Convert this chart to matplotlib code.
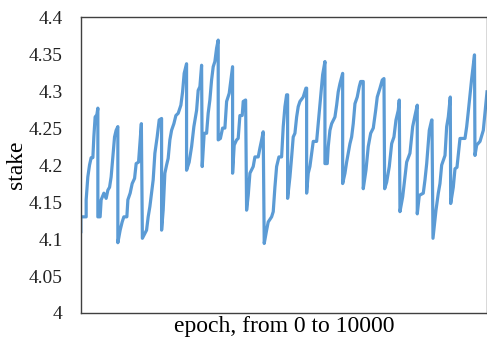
import matplotlib
matplotlib.use("Agg")
import matplotlib.pyplot as plt

plt.rcParams['font.family'] = ['Liberation Serif', 'DejaVu Serif']

# epochs (x axis runs 0..10000)
epoch = [0, 0, 131, 131, 172, 214, 254, 296, 320, 352, 394, 419,
         419, 475, 500, 567, 623, 665, 707, 746, 788, 830, 869, 911,
         911, 968, 1017, 1059, 1133, 1158, 1214, 1264, 1323, 1362, 1421, 1490,
         1515, 1618, 1658, 1700, 1741, 1781, 1823, 1879, 1929, 1988,
         1988, 2027, 2069, 2111, 2150, 2192, 2234, 2291, 2340, 2397, 2463, 2505, 2544, 2603,
         2603, 2667, 2727, 2783, 2850, 2889, 2931, 2973,
         2988, 3037, 3096, 3135, 3177, 3219, 3259, 3300, 3342, 3382,
         3382, 3436, 3490, 3547, 3589, 3653, 3695, 3736,
         3736, 3776, 3835, 3874, 3916, 3973, 3998, 4057,
         4081, 4121, 4163, 4244, 4286, 4367, 4409, 4451, 4490,
         4515, 4574, 4613, 4697, 4737, 4778, 4820, 4877, 4943, 4983, 5025, 5066, 5091,
         5091, 5148, 5190, 5229, 5271, 5313, 5352, 5394, 5475, 5542, 5559,
         5559, 5599, 5640, 5722, 5805, 5845, 5904, 5953, 6010,
         6010, 6067, 6091, 6133, 6175, 6256, 6298, 6337, 6379, 6446,
         6446, 6503, 6544, 6626, 6667, 6707, 6749, 6805, 6855, 6889, 6953,
         6953, 7020, 7076, 7136, 7200, 7259, 7298, 7365, 7421, 7463,
         7480, 7530, 7594, 7653, 7709, 7759, 7815, 7840,
         7857, 7924, 7980, 8022, 8103, 8170, 8227, 8283,
         8283, 8333, 8431, 8473, 8515, 8579, 8638, 8645,
         8670, 8744, 8801, 8842, 8884, 8966, 9007, 9047, 9096,
         9106, 9170, 9212, 9261, 9335, 9458, 9500, 9539, 9623, 9692,
         9704, 9746, 9828, 9909, 10000]

stake = [4.110, 4.130, 4.130, 4.153, 4.184, 4.200, 4.210, 4.210, 4.238, 4.265, 4.268, 4.277,
         4.130, 4.130, 4.153, 4.162, 4.155, 4.166, 4.170, 4.184, 4.211, 4.238, 4.247, 4.252,
         4.095, 4.112, 4.123, 4.130, 4.130, 4.153, 4.162, 4.175, 4.182, 4.202, 4.204, 4.256,
         4.101, 4.112, 4.130, 4.144, 4.162, 4.180, 4.216, 4.238, 4.261, 4.263,
         4.112, 4.139, 4.189, 4.200, 4.209, 4.234, 4.247, 4.256, 4.267, 4.270, 4.281, 4.299, 4.324, 4.337,
         4.193, 4.204, 4.225, 4.252, 4.274, 4.301, 4.306, 4.335,
         4.198, 4.243, 4.243, 4.270, 4.288, 4.315, 4.333, 4.340, 4.358, 4.369,
         4.234, 4.236, 4.250, 4.250, 4.286, 4.297, 4.315, 4.333,
         4.189, 4.227, 4.234, 4.236, 4.267, 4.267, 4.286, 4.288,
         4.139, 4.159, 4.189, 4.198, 4.211, 4.211, 4.223, 4.234, 4.245,
         4.094, 4.112, 4.123, 4.130, 4.137, 4.170, 4.198, 4.211, 4.211, 4.252, 4.279, 4.295, 4.295,
         4.155, 4.184, 4.211, 4.238, 4.243, 4.265, 4.279, 4.286, 4.292, 4.304, 4.304,
         4.162, 4.189, 4.198, 4.232, 4.232, 4.256, 4.290, 4.322, 4.340,
         4.202, 4.202, 4.225, 4.247, 4.256, 4.265, 4.281, 4.299, 4.310, 4.324,
         4.175, 4.189, 4.204, 4.229, 4.238, 4.256, 4.283, 4.292, 4.306, 4.313, 4.313,
         4.168, 4.193, 4.225, 4.243, 4.250, 4.274, 4.292, 4.304, 4.315, 4.317,
         4.168, 4.177, 4.198, 4.229, 4.238, 4.261, 4.274, 4.288,
         4.137, 4.157, 4.184, 4.204, 4.216, 4.252, 4.267, 4.281,
         4.134, 4.159, 4.162, 4.180, 4.202, 4.247, 4.261, 4.261,
         4.101, 4.139, 4.162, 4.175, 4.200, 4.213, 4.252, 4.265, 4.292,
         4.148, 4.170, 4.195, 4.197, 4.236, 4.236, 4.252, 4.272, 4.317, 4.349,
         4.213, 4.227, 4.232, 4.247, 4.299]

y_ticks = [4, 4.05, 4.1, 4.15, 4.2, 4.25, 4.3, 4.35, 4.4]
y_labels = ["4", "4.05", "4.1", "4.15", "4.2", "4.25", "4.3", "4.35", "4.4"]

fig = plt.figure(figsize=(4.87, 3.43), dpi=100)
ax = fig.add_axes([0.166, 0.0875, 0.834, 0.8625])

ax.plot(epoch, stake, color="#5b9bd5", linewidth=2.3, solid_joinstyle="round")

ax.set_xlim(0, 10000)
ax.set_ylim(4, 4.4)
ax.set_yticks(y_ticks)
ax.set_yticklabels(y_labels)
ax.set_xticks([])
ax.tick_params(axis="y", length=0, pad=13, labelsize=14, colors="#222222")

for s in ax.spines.values():
    s.set_color("#404040")
    s.set_linewidth(1.0)

ax.set_xlabel("epoch, from 0 to 10000", fontsize=17, labelpad=2)
ax.set_ylabel("stake", fontsize=17, labelpad=1)

fig.savefig("out.png", dpi=100)
